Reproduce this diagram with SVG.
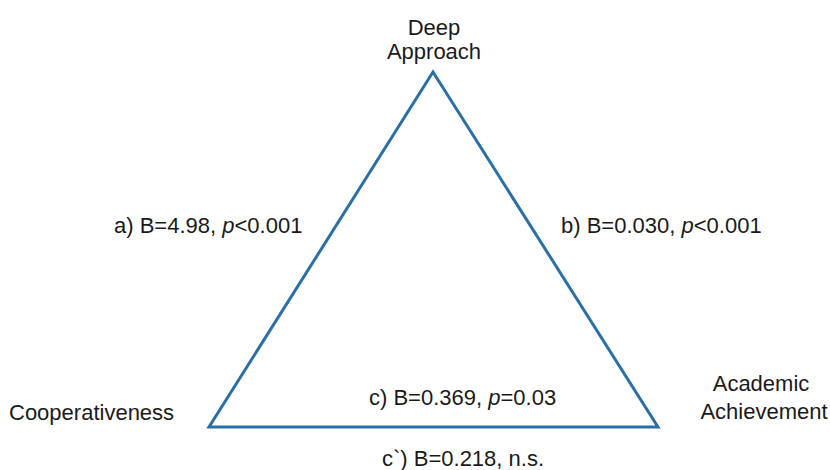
<svg xmlns="http://www.w3.org/2000/svg" width="830" height="470" viewBox="0 0 830 470">
<style>
text{font-family:"Liberation Sans",Arial,sans-serif;font-size:22px;fill:#1a1a1a}
.e{fill:none;stroke:#2a6fa8;stroke-width:3}
</style>
<rect width="830" height="470" fill="#fff"/>
<g id="connectors">
<polygon class="e" points="433,72 209,427 658,427" stroke-linejoin="miter"/>
</g>
<g id="deep"><text x="434" y="35" text-anchor="middle">Deep</text><text x="434" y="59" text-anchor="middle">Approach</text></g>
<g id="coop"><text x="9" y="420">Cooperativeness</text></g>
<g id="acad"><text x="761" y="391" text-anchor="middle">Academic</text><text x="764" y="419" text-anchor="middle">Achievement</text></g>
<g id="labels">
<text x="114" y="233">a) B=4.98, <tspan font-style="italic">p</tspan>&lt;0.001</text>
<text x="561" y="233">b) B=0.030, <tspan font-style="italic">p</tspan>&lt;0.001</text>
<text x="369" y="405">c) B=0.369, <tspan font-style="italic">p</tspan>=0.03</text>
<text x="382" y="466">c`) B=0.218, n.s.</text>
</g>
</svg>
